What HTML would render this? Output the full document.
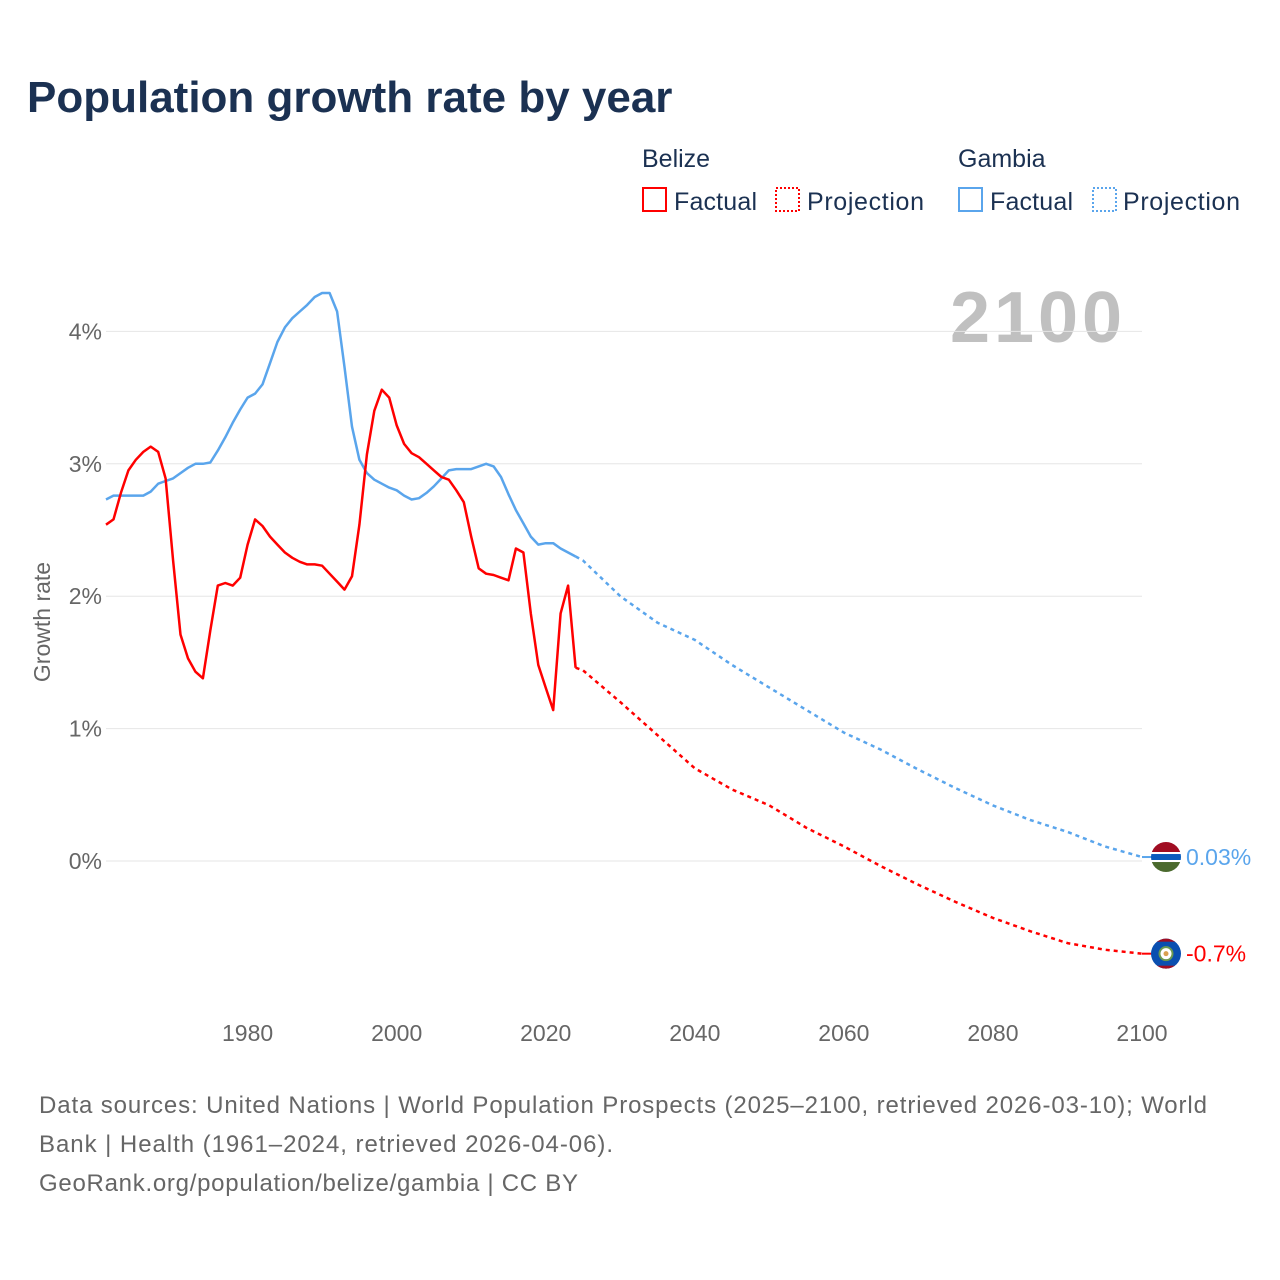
<!DOCTYPE html>
<html><head><meta charset="utf-8">
<style>
body{margin:0;background:#fff;font-family:"Liberation Sans",sans-serif;}
#wrap{position:relative;width:1280px;height:1280px;overflow:hidden;background:#fff;}
</style></head>
<body>
<div id="wrap">
<svg id="chart" width="1280" height="1280" xmlns="http://www.w3.org/2000/svg">
<text x="27" y="112" font-size="44" font-weight="bold" fill="#1b3152" font-family="Liberation Sans, sans-serif">Population growth rate by year</text>
<g font-family="Liberation Sans, sans-serif" font-size="25" fill="#1b3152">
<text x="642" y="167">Belize</text>
<text x="958" y="167">Gambia</text>
<g><rect x="643" y="188" width="23" height="23" fill="none" stroke="#ff0000" stroke-width="2"/><text x="674" y="210" textLength="83">Factual</text></g>
<g><rect x="776" y="188" width="23" height="23" fill="none" stroke="#ff0000" stroke-width="2" stroke-dasharray="2,2"/><text x="807" y="210" textLength="117">Projection</text></g>
<g><rect x="959" y="188" width="23" height="23" fill="none" stroke="#5aa5ec" stroke-width="2"/><text x="990" y="210" textLength="83">Factual</text></g>
<g><rect x="1093" y="188" width="23" height="23" fill="none" stroke="#5aa5ec" stroke-width="2" stroke-dasharray="2,2"/><text x="1123" y="210" textLength="117">Projection</text></g>
</g>
<text x="1122" y="342" text-anchor="end" font-size="72" font-weight="bold" fill="#c0c0c0" textLength="172">2100</text>
<g id="grid"></g>
<g id="series"></g>
<text transform="translate(50,622) rotate(-90)" text-anchor="middle" font-size="23" fill="#666">Growth rate</text>
<g font-size="24" fill="#666">
<text x="39" y="1113" textLength="1168">Data sources: United Nations | World Population Prospects (2025–2100, retrieved 2026-03-10); World</text>
<text x="39" y="1152" textLength="574">Bank | Health (1961–2024, retrieved 2026-04-06).</text>
<text x="39" y="1191" textLength="539">GeoRank.org/population/belize/gambia | CC BY</text>
</g>
</svg>
</div>
<script>
const yTicks=[0,1,2,3,4];
const yTickLabels=["0%","1%","2%","3%","4%"];
const xTicks=[1980,2000,2020,2040,2060,2080,2100];
const factYears=[1961,1962,1963,1964,1965,1966,1967,1968,1969,1970,1971,1972,1973,1974,1975,1976,1977,1978,1979,1980,1981,1982,1983,1984,1985,1986,1987,1988,1989,1990,1991,1992,1993,1994,1995,1996,1997,1998,1999,2000,2001,2002,2003,2004,2005,2006,2007,2008,2009,2010,2011,2012,2013,2014,2015,2016,2017,2018,2019,2020,2021,2022,2023,2024];
const belizeFact=[2.54,2.58,2.78,2.95,3.03,3.09,3.13,3.09,2.89,2.27,1.71,1.53,1.43,1.38,1.74,2.08,2.10,2.08,2.14,2.39,2.58,2.53,2.45,2.39,2.33,2.29,2.26,2.24,2.24,2.23,2.17,2.11,2.05,2.15,2.54,3.07,3.40,3.56,3.50,3.29,3.15,3.08,3.05,3.00,2.95,2.90,2.88,2.80,2.71,2.45,2.21,2.17,2.16,2.14,2.12,2.36,2.33,1.87,1.48,1.31,1.14,1.87,2.08,1.46];
const gambiaFact=[2.73,2.76,2.76,2.76,2.76,2.76,2.79,2.85,2.87,2.89,2.93,2.97,3.00,3.00,3.01,3.10,3.20,3.31,3.41,3.50,3.53,3.60,3.76,3.92,4.03,4.10,4.15,4.20,4.26,4.29,4.29,4.15,3.73,3.28,3.03,2.93,2.88,2.85,2.82,2.80,2.76,2.73,2.74,2.78,2.83,2.89,2.95,2.96,2.96,2.96,2.98,3.00,2.98,2.90,2.77,2.65,2.55,2.45,2.39,2.40,2.40,2.36,2.33,2.30];
const projYears=[2024,2025,2030,2035,2040,2045,2050,2055,2060,2065,2070,2075,2080,2085,2090,2095,2100];
const belizeProj=[1.46,1.44,1.20,0.95,0.70,0.54,0.42,0.25,0.11,-0.04,-0.18,-0.31,-0.43,-0.53,-0.62,-0.67,-0.70];
const gambiaProj=[2.30,2.27,2.00,1.80,1.67,1.48,1.31,1.14,0.97,0.84,0.69,0.55,0.42,0.31,0.22,0.11,0.03];
const NS="http://www.w3.org/2000/svg";
function xS(y){return 106+(y-1961)*(1142-106)/(2100-1961);}
function yS(v){return 861-v*132.4;}
function mk(t,a,p){const e=document.createElementNS(NS,t);for(const k in a)e.setAttribute(k,a[k]);p.appendChild(e);return e;}
const grid=document.getElementById('grid');
yTicks.forEach((t,i)=>{
 const l=mk('line',{x1:106,x2:1142,y1:yS(t),y2:yS(t),stroke:'#e6e6e6','stroke-width':1},grid);
 
 
 const tx=mk('text',{x:102,y:yS(t)+8,'text-anchor':'end','font-size':23,fill:'#666'},grid);
 tx.textContent=yTickLabels[i];
 
 
});
xTicks.forEach(t=>{
 const tx=mk('text',{x:xS(t),y:1041,'text-anchor':'middle','font-size':23,fill:'#666'},grid);
 tx.textContent=t;
 
 
});
const ser=document.getElementById('series');
function line(xs,vs,color,dash,name){
 const d=xs.map((x,i)=>(i?'L':'M')+xS(x).toFixed(1)+','+yS(vs[i]).toFixed(1)).join('');
 const a={d:d,fill:'none',stroke:color,'stroke-width':2.5,'stroke-linejoin':'round'};
 if(dash)a['stroke-dasharray']='4,4';
 const p=mk('path',a,ser);
 
 
}
line(factYears,gambiaFact,'#5aa5ec',false,'gambia-factual-line');
line(projYears,gambiaProj,'#5aa5ec',true,'gambia-projection-line');
line(factYears,belizeFact,'#ff0000',false,'belize-factual-line');
line(projYears,belizeProj,'#ff0000',true,'belize-projection-line');
const gx=xS(2100)+24, gy=yS(gambiaProj[gambiaProj.length-1]);
const gc=mk('line',{x1:xS(2100),x2:gx-14,y1:gy,y2:gy,stroke:'#5aa5ec','stroke-width':2},ser);


const gf=mk('g',{},ser);


const cp=mk('clipPath',{id:'cg'},gf);
mk('circle',{cx:gx,cy:gy,r:15},cp);
const gfc=mk('g',{'clip-path':'url(#cg)'},gf);
mk('rect',{x:gx-16,y:gy-16,width:32,height:11,fill:'#a00d22'},gfc);
mk('rect',{x:gx-16,y:gy-5,width:32,height:2,fill:'#fff'},gfc);
mk('rect',{x:gx-16,y:gy-3,width:32,height:6,fill:'#0a5bbd'},gfc);
mk('rect',{x:gx-16,y:gy+3,width:32,height:2,fill:'#fff'},gfc);
mk('rect',{x:gx-16,y:gy+5,width:32,height:11,fill:'#4b6a2e'},gfc);
const gl=mk('text',{x:gx+20,y:gy+8,'font-size':23,fill:'#5aa5ec'},ser);
gl.textContent=gambiaProj[gambiaProj.length-1].toFixed(2)+'%';


const bx=gx, by=yS(belizeProj[belizeProj.length-1]);
const bc=mk('line',{x1:xS(2100),x2:bx-14,y1:by,y2:by,stroke:'#ff0000','stroke-width':2},ser);


const bf=mk('g',{},ser);


const cpb=mk('clipPath',{id:'cb'},bf);
mk('circle',{cx:bx,cy:by,r:15},cpb);
const bfc=mk('g',{'clip-path':'url(#cb)'},bf);
mk('rect',{x:bx-16,y:by-16,width:32,height:32,fill:'#0a4fb0'},bfc);
mk('rect',{x:bx-16,y:by-16,width:32,height:4,fill:'#a00d22'},bfc);
mk('rect',{x:bx-16,y:by+12,width:32,height:4,fill:'#a00d22'},bfc);
mk('circle',{cx:bx,cy:by,r:6.5,fill:'#fff',stroke:'#6b9a50','stroke-width':2},bf);
mk('circle',{cx:bx,cy:by,r:2.5,fill:'#d9a050'},bf);
const bl=mk('text',{x:bx+20,y:by+8,'font-size':23,fill:'#ff0000'},ser);
bl.textContent=belizeProj[belizeProj.length-1].toFixed(1)+'%';


</script>
</body></html>
